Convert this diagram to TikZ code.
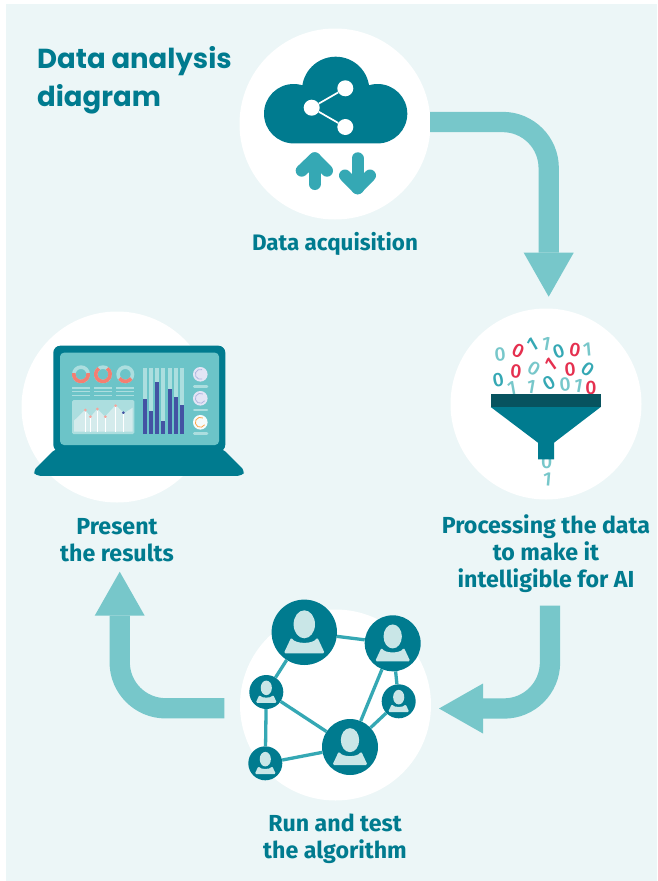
\documentclass[tikz,border=0pt]{standalone}
\usepackage{fontspec}
\setmainfont{Fira Sans}
\newfontfamily\titlefont{Poppins}
\newfontfamily\digitfont{Fira Sans Medium}
\usetikzlibrary{arrows.meta}

\definecolor{panelbg}{HTML}{ECF6F7}
\definecolor{tealdark}{HTML}{007B8F}
\definecolor{tealdeep}{HTML}{07535F}
\definecolor{tealmid}{HTML}{35A8B4}
\definecolor{teallight}{HTML}{77C7CA}
\definecolor{tealscreen}{HTML}{6CC4C8}
\definecolor{tealpale}{HTML}{ACDEDF}
\definecolor{tealface}{HTML}{C9E6E7}
\definecolor{rosered}{HTML}{E5304F}
\definecolor{salmon}{HTML}{F47F72}
\definecolor{barblue}{HTML}{4353A3}
\definecolor{lavender}{HTML}{E3E5F5}
\definecolor{lavenderdark}{HTML}{B0B6E0}

\tikzset{
    stagedisc/.style = {circle, fill=white, minimum size=191pt, inner sep=0pt},
    steplabel/.style = {text=tealdark, align=center, inner sep=0pt,
        font=\bfseries\fontsize{23.2}{27}\selectfont},
    flowarrow/.style = {teallight, line width=20.3pt, rounded corners=46pt,
        -{Triangle[length=44pt,width=50pt,line width=0pt]}},
    sharedot/.style = {circle, fill=white, minimum size=16pt, inner sep=0pt},
    updown/.style = {tealmid, line width=12pt, line cap=round, line join=round},
    digitbase/.style = {inner sep=0pt, font=\digitfont\fontsize{19.5}{19.5}\selectfont},
    digitlight/.style = {digitbase, text=teallight},
    digitmid/.style = {digitbase, text=tealmid},
    digitred/.style = {digitbase, text=rosered},
    palerule/.style = {tealpale, line width=1.3pt},
    ringbase/.style = {tealpale, line width=3.6pt},
    ringpart/.style = {salmon, line width=3.6pt},
    spike/.style = {white, line width=1pt},
    spikedot/.style = {circle, fill=salmon!70!white, minimum size=3pt, inner sep=0pt},
    barback/.style = {fill=tealpale},
    barfront/.style = {fill=barblue},
    gauge/.style = {circle, fill=lavender, minimum size=14.6pt, inner sep=0pt},
    gaugearc/.style = {lavenderdark, line width=0.8pt},
    gaugerule/.style = {tealpale, line width=2.6pt, line cap=round},
    bigperson/.style = {circle, fill=tealdark, minimum size=65.4pt, inner sep=0pt},
    midperson/.style = {circle, fill=tealdark, minimum size=56pt, inner sep=0pt},
    smallperson/.style = {circle, fill=tealdark, minimum size=34pt, inner sep=0pt},
    netlink/.style = {tealmid, line width=3.3pt},
    person/.pic = {
        \fill[tealface] (0,-8) circle[x radius=10.7pt, y radius=14pt];
        \fill[tealface, rounded corners=1.5pt] (-20.5,21) -- (-13,5)
            .. controls (-9,12) and (9,12) .. (13,5) -- (20.5,21) -- cycle;
    },
}

\begin{document}
\begin{tikzpicture}[x=1pt, y=-1pt]

    \useasboundingbox (0,0) rectangle (657,881);

    % Background panel
    \fill[panelbg] (6,4) rectangle (657,881);

    % Title
    \node[anchor=base west, inner sep=0pt, text=tealdark, font=\titlefont\bfseries\fontsize{27.5}{38}\selectfont] (title) at (37,68) {Data analysis};
    \node[anchor=base west, inner sep=0pt, text=tealdark, font=\titlefont\bfseries\fontsize{27.5}{38}\selectfont] (titletwo) at (37,106) {diagram};

    % Stage discs
    \node[stagedisc] (acquire) at (335,124) {};
    \node[stagedisc] (process) at (546,404) {};
    \node[stagedisc] (present) at (117,407) {};
    \node[stagedisc] (runtest) at (335.5,705) {};

    % Stage labels
    \node[steplabel, font=\bfseries\fontsize{22.4}{27}\selectfont] (acquirelabel) at (335,244) {Data acquisition};
    \node[steplabel] (processlabel) at (546,554) {Processing the data\\to make it\\intelligible for AI};
    \node[steplabel] (presentlabel) at (117,540) {Present\\the results};
    \node[steplabel] (runtestlabel) at (335,839) {Run and test\\the algorithm};

    % Flow arrows
    \coordinate (flowastart) at (430,122);
    \coordinate (flowaend) at (548.7,296.7);
    \coordinate (flowbstart) at (550,605.7);
    \coordinate (flowbend) at (439,708.5);
    \coordinate (flowcstart) at (224.3,708.3);
    \coordinate (flowcend) at (119.7,571.7);
    \draw[flowarrow] (flowastart) -| (flowaend);
    \draw[flowarrow] (flowbstart) |- (flowbend);
    \draw[flowarrow] (flowcstart) -| (flowcend);

    % Cloud
    \fill[tealdark] (293.7,113.7) circle (29.7pt) (377.6,113.7) circle (29.7pt)
        (335.7,90.4) circle (33.7pt) (293.7,100) rectangle (377.6,143.4);
    \node[sharedot] (sharehub) at (311.7,107.7) {};
    \node[sharedot] (shareup) at (345.3,88.3) {};
    \node[sharedot] (sharedown) at (345.3,127) {};
    \draw[white, line width=1.7pt] (sharehub) -- (shareup);
    \draw[white, line width=1.7pt] (sharehub) -- (sharedown);

    % Up and down arrows
    \draw[updown] (314.7,184) -- (314.7,158.3);
    \draw[updown] (301.7,170.7) -- (314.7,158.3) -- (327,170.7);
    \draw[updown] (357.5,158.3) -- (357.5,188.3);
    \draw[updown] (345,175.5) -- (357.5,188.3) -- (370,175.5);

    % Digits above the funnel
    \node[digitlight, rotate=5] (da) at (500,355) {0};
    \node[digitred, rotate=-25] (db) at (518.3,350.7) {0};
    \node[digitmid, rotate=30] (dc) at (532.3,345) {1};
    \node[digitlight, rotate=-10] (dd) at (546,343.3) {1};
    \node[digitmid, rotate=20] (de) at (558.7,351) {0};
    \node[digitred, rotate=-10] (df) at (575,350) {0};
    \node[digitlight, rotate=5] (dg) at (587.3,350) {1};
    \node[digitmid, rotate=10] (dh) at (498.3,380) {0};
    \node[digitred, rotate=-5] (di) at (516,371.7) {0};
    \node[digitlight, rotate=-30] (dj) at (534,368.3) {0};
    \node[digitred, rotate=35] (dk) at (550.7,365) {1};
    \node[digitred, rotate=5] (dl) at (570,370) {0};
    \node[digitmid, rotate=-35] (dm) at (587.7,369.3) {0};
    \node[digitlight, rotate=10] (dn) at (511.7,388.3) {1};
    \node[digitlight, rotate=-10] (dp) at (531,386.7) {1};
    \node[digitmid, rotate=30] (dq) at (549,382.7) {0};
    \node[digitlight, rotate=5] (dr) at (565,385) {0};
    \node[digitlight, rotate=-10] (ds) at (578.3,386) {1};
    \node[digitred] (dt) at (591,388.3) {0};
    \node[digitlight] (du) at (546.7,461.7) {0};
    \node[digitlight, rotate=-5] (dv) at (547.3,479.3) {1};

    % Funnel
    \fill[tealdark] (490.7,407) -- (600.7,407) -- (554,442.7) -- (554,459.3) -- (538,459.3) -- (538,442.7) -- cycle;
    \fill[tealdeep] (490.7,394) rectangle (600.7,407.3);

    % Laptop
    \fill[tealdark, rounded corners=4pt] (55,449) -- (33,471) -- (36,475.8) -- (242,475.8) -- (245,471) -- (223,449) -- cycle;
    \fill[tealdark, rounded corners=7pt] (53.3,345.7) rectangle (225.3,451.7);
    \fill[tealscreen, rounded corners=4pt] (60,352.7) rectangle (219,445);

    % Donuts on the screen
    \draw[ringbase] (81,374.3) circle (7.2pt);
    \draw[ringbase] (103,374.3) circle (7.2pt);
    \draw[ringbase] (125.3,374.3) circle (7.2pt);
    \draw[ringpart] (81,374.3) ++(170:7.2pt) arc[start angle=170, end angle=370, radius=7.2pt];
    \draw[ringpart] (103,374.3) ++(125:7.2pt) arc[start angle=125, end angle=415, radius=7.2pt];
    \draw[ringpart] (125.3,374.3) ++(215:7.2pt) arc[start angle=215, end angle=325, radius=7.2pt];
    \draw[palerule] (72,388) -- (90,388) (94,388) -- (112,388) (116.3,388) -- (134.3,388);
    \draw[palerule] (72,391.8) -- (90,391.8) (94,391.8) -- (112,391.8) (116.3,391.8) -- (134.3,391.8);
    \draw[palerule] (72,395.7) -- (90,395.7) (94,395.7) -- (112,395.7) (116.3,395.7) -- (134.3,395.7);

    % Line chart on the screen
    \fill[tealpale, rounded corners=1.5pt] (72,400) rectangle (134.3,434);
    \fill[tealface!80!white] (74,420.7) -- (85,410) -- (90.7,416.7) -- (97.3,409) -- (105,416.7) -- (115.7,405) -- (124,413.3) -- (132.7,407.7) -- (132.7,431.7) -- (74,431.7) -- cycle;
    \node[spikedot] (spa) at (85.3,410) {};
    \node[spikedot] (spb) at (90.3,416.7) {};
    \node[spikedot] (spc) at (97.3,409) {};
    \node[spikedot] (spd) at (105.3,416.7) {};
    \node[spikedot] (spe) at (115.7,405.7) {};
    \node[spikedot, fill=barblue] (spf) at (123.3,412.7) {};
    \draw[spike] (spa.south) -- (85.3,431.7);
    \draw[spike] (spb.south) -- (90.3,431.7);
    \draw[spike] (spc.south) -- (97.3,431.7);
    \draw[spike] (spd.south) -- (105.3,431.7);
    \draw[spike] (spe.south) -- (115.7,431.7);
    \draw[spike] (spf.south) -- (123.3,431.7);

    % Bars on the screen
    \fill[barback] (142.7,367.7) rectangle (146.7,434);
    \fill[barback] (149,367.7) rectangle (153,434);
    \fill[barback] (155,367.7) rectangle (159,434);
    \fill[barback] (161,367.7) rectangle (165,434);
    \fill[barback] (167.7,367.7) rectangle (171.7,434);
    \fill[barback] (173.7,367.7) rectangle (177.7,434);
    \fill[barback] (180,367.7) rectangle (184,434);
    \fill[barfront] (142.7,399.3) rectangle (146.7,434);
    \fill[barfront] (149,411) rectangle (153,434);
    \fill[barfront] (155,382) rectangle (159,434);
    \fill[barfront] (161,421.3) rectangle (165,434);
    \fill[barfront] (167.7,389) rectangle (171.7,434);
    \fill[barfront] (173.7,396.7) rectangle (177.7,434);
    \fill[barfront] (180,405) rectangle (184,434);

    % Gauges on the screen
    \node[gauge] (gaugea) at (200.3,374.3) {};
    \node[gauge] (gaugeb) at (200.3,398.3) {};
    \node[gauge, fill=white!90!tealpale] (gaugec) at (200.3,422.3) {};
    \draw[gaugearc] (gaugea.center) ++(70:5pt) arc[start angle=70, end angle=290, radius=5pt];
    \draw[gaugearc] (gaugeb.center) ++(60:5pt) arc[start angle=60, end angle=330, radius=5pt];
    \draw[gaugearc, orange!70!white] (gaugec.center) ++(60:5pt) arc[start angle=60, end angle=330, radius=5pt];
    \draw[gaugerule] (194.3,386.3) -- (207,386.3);
    \draw[gaugerule] (194.3,410) -- (207,410);
    \draw[gaugerule] (194.3,433.7) -- (207,433.7);

    % Network of people
    \node[bigperson] (usera) at (304.3,632.3) {};
    \node[midperson] (userb) at (392.7,643.3) {};
    \node[smallperson] (userc) at (266.3,692) {};
    \node[smallperson] (userd) at (398.7,701.3) {};
    \node[midperson] (usere) at (350,747) {};
    \node[smallperson] (userf) at (265.3,763.3) {};

    \draw[netlink] (usera) -- (userb);
    \draw[netlink] (usera) -- (userc);
    \draw[netlink] (userc) -- (usere);
    \draw[netlink] (userc) -- (userf);
    \draw[netlink] (userf) -- (usere);
    \draw[netlink] (userb) -- (usere);
    \draw[netlink] (userb) -- (userd);
    \draw[netlink] (userd) -- (usere);

    \pic at (usera.center) {person};
    \pic[scale=0.857] at (userb.center) {person};
    \pic[scale=0.52] at (userc.center) {person};
    \pic[scale=0.52] at (userd.center) {person};
    \pic[scale=0.857] at (usere.center) {person};
    \pic[scale=0.52] at (userf.center) {person};

\end{tikzpicture}
\end{document}
